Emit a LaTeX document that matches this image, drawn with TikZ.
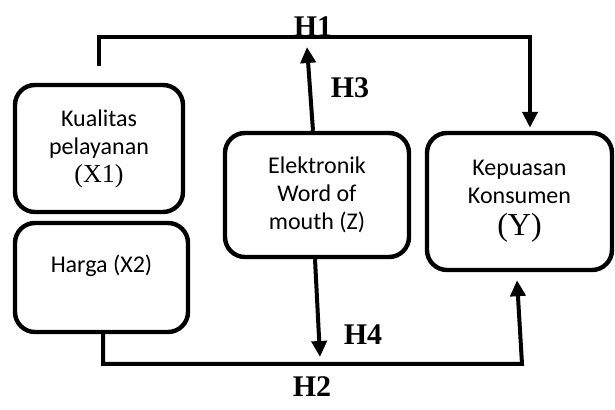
\documentclass[tikz,border=0pt]{standalone}
\usepackage{fontspec}
\setmainfont{Liberation Serif}
\setsansfont{Carlito}
\usepackage{tikz}
\usetikzlibrary{arrows.meta}

\begin{document}
\begin{tikzpicture}[x=0.5pt,y=-0.5pt,
        varBox/.style={draw=black,line width=2.2pt,rectangle,rounded corners=10pt,align=center,text=black,
            font=\sffamily\fontsize{12}{14}\selectfont},
        hypLine/.style={draw=black,line width=2pt},
        hypArrow/.style={hypLine,-{Triangle[width=7.5pt,length=8pt]}},
        hypLabel/.style={text=black,inner sep=0pt,font=\rmfamily\bfseries\fontsize{15}{15}\selectfont}]
        \useasboundingbox (0,0) rectangle (615,410);

        \node (rectX1) at (99,148.5) [varBox, minimum width=84pt,minimum height=63.5pt] {Kualitas\\pelayanan\\{\rmfamily\fontsize{13}{14}\selectfont (X1)}};
        \node (rectX2) at (101.5,277.5) [varBox, minimum width=86.5pt,minimum height=54.5pt,text height=9pt,text depth=13.7pt] {Harga (X2)};
        \node (rectZ) at (317,195) [varBox, minimum width=92pt,minimum height=62pt] {Elektronik\\Word of\\mouth (Z)};
        \node (rectY) at (519.5,201.5) [varBox, minimum width=92.5pt,minimum height=68.5pt] {Kepuasan\\Konsumen\\[2pt]{\rmfamily\fontsize{16}{18}\selectfont (Y)}};

        \node (labH1) at (313,27) [hypLabel] {H1};
        \node (labH3) at (350,88) [hypLabel] {H3};
        \node (labH4) at (363,335) [hypLabel] {H4};
        \node (labH2) at (312,387) [hypLabel] {H2};

        \coordinate (cornerH1) at (530,37);
        \coordinate (tipH3) at (307,47);
        \coordinate (tipH4) at (320,357);
        \coordinate (cornerH2) at (522,364);

        \draw[hypArrow] ([yshift=8.5pt]rectX1.north) |- (cornerH1) -- ([xshift=5.25pt,yshift=1.5pt]rectY.north);
        \draw[hypArrow] ([xshift=-2pt]rectZ.north) -- (tipH3);
        \draw[hypArrow] ([xshift=-1pt]rectZ.south) -- (tipH4);
        \draw[hypArrow] ([xshift=0.75pt]rectX2.south) |- (cornerH2) -- ([xshift=-1.25pt,yshift=-4pt]rectY.south);

    \end{tikzpicture}
\end{document}
